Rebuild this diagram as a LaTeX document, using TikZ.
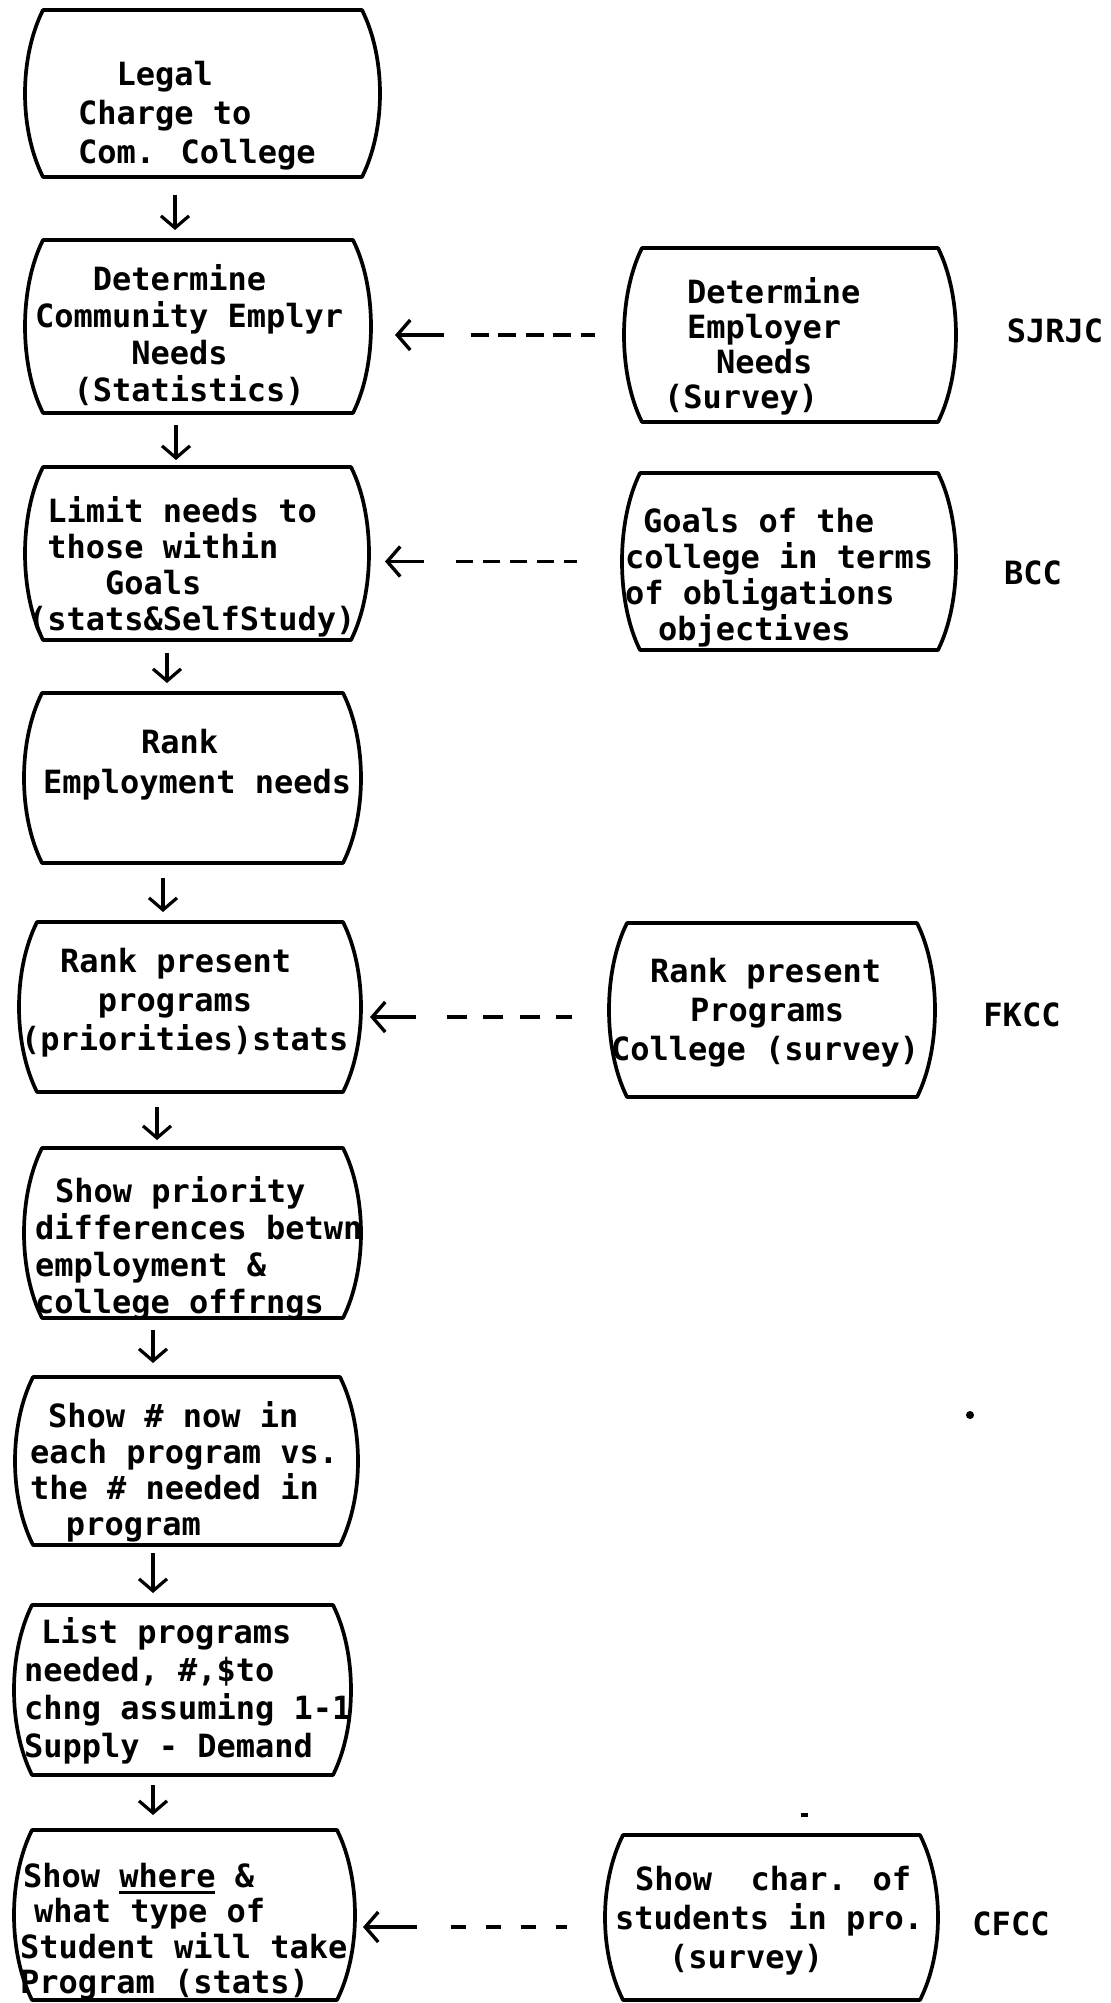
\documentclass[tikz,border=0pt]{standalone}
\usepackage{fontspec}
\newfontfamily\typewriter{DejaVu Sans Mono}
\usetikzlibrary{arrows.meta}
% strut that fixes the height of the first typed line
\newcommand{\topstrut}{\rule{0pt}{26pt}}
\newcommand{\indentby}[1]{\hspace*{#1pt}}
\newcommand{\typedunderline}[2]{\rlap{\rule[-7pt]{#1pt}{2.8pt}}#2}
% barrel outline: straight top and bottom, sides bulging outwards
\newcommand{\drawbarrel}[1]{%
  \draw[frame] ([xshift=18pt]#1.north west) -- ([xshift=-18pt]#1.north east)
    .. controls +(24pt,-48pt) and +(24pt,48pt) .. ([xshift=-18pt]#1.south east)
    -- ([xshift=18pt]#1.south west)
    .. controls +(-24pt,48pt) and +(-24pt,-48pt) .. ([xshift=18pt]#1.north west) -- cycle;}
\begin{document}
\begin{tikzpicture}[x=1pt,y=-1pt,
  stage/.style={inner sep=0pt, outer sep=0pt},
  frame/.style={line width=3.7pt, line cap=round, line join=round},
  words/.style={inner sep=0pt, outer sep=0pt, anchor=north west, align=left,
    font=\typewriter\bfseries\fontsize{32}{#1}\selectfont},
  words/.default=37,
  tag/.style={inner sep=0pt, outer sep=0pt, font=\typewriter\bfseries\fontsize{32}{37}\selectfont},
  flow/.style={line width=3.2pt, -{Straight Barb[length=12pt,width=28pt]}},
  feed/.style={line width=3.4pt, {Straight Barb[length=13pt,width=30pt]}-}]

\fill[white] (0,0) rectangle (1111,2003);
\useasboundingbox (0,0) rectangle (1111,2003);

% main column
\node[stage, minimum width=355pt, minimum height=167pt] (b1) at (202.5,93.5) {};
\node[stage, minimum width=346pt, minimum height=173pt] (b2) at (198,326.5) {};
\node[stage, minimum width=344pt, minimum height=173pt] (b3) at (197,553.5) {};
\node[stage, minimum width=337pt, minimum height=170pt] (b4) at (192.5,778) {};
\node[stage, minimum width=342pt, minimum height=170pt] (b5) at (190,1007) {};
\node[stage, minimum width=337pt, minimum height=170pt] (b6) at (192.5,1233) {};
\node[stage, minimum width=343pt, minimum height=168pt] (b7) at (186.5,1461) {};
\node[stage, minimum width=337pt, minimum height=170pt] (b8) at (182.5,1690) {};
\node[stage, minimum width=341pt, minimum height=170pt] (b9) at (184.5,1915) {};
% side column
\node[stage, minimum width=332pt, minimum height=174pt] (sA) at (790,335) {};
\node[stage, minimum width=334pt, minimum height=177pt] (sB) at (789,561.5) {};
\node[stage, minimum width=326pt, minimum height=174pt] (sC) at (772,1010) {};
\node[stage, minimum width=333pt, minimum height=165pt] (sD) at (771.5,1917.5) {};

\foreach \b in {b1,b2,b3,b4,b5,b6,b7,b8,b9,sA,sB,sC,sD}{\drawbarrel{\b}}

% typed texts
\node[words=39] (t1) at (78,59) {\topstrut\indentby{38.5}Legal\\Charge to\\Com. College};
\node[words=37] (t2) at (35,264) {\topstrut\indentby{57.8}Determine\\Community Emplyr\\\indentby{96.3}Needs\\\indentby{38.5}(Statistics)};
\node[words=36] (t3) at (28,496) {\topstrut\indentby{19.3}Limit needs to\\\indentby{19.3}those within\\\indentby{77}Goals\\(stats\&SelfStudy)};
\node[words=40] (t4) at (43,727) {\topstrut\indentby{98}Rank\\Employment needs};
\node[words=39] (t5) at (21,946) {\topstrut\indentby{39}Rank present\\\indentby{77}programs\\(priorities)stats};
\node[words=37] (t6) at (35,1176) {\topstrut\indentby{20}Show priority\\differences betwn\\employment \&\\college offrngs};
\node[words=36] (t7) at (30,1401) {\topstrut\indentby{18}Show \# now in\\each program vs.\\the \# needed in\\\indentby{36}program};
\node[words=38] (t8) at (24,1617) {\topstrut\indentby{17}List programs\\needed, \#,\$to\\chng assuming 1-1\\Supply - Demand};
\node[words=35.5] (t9) at (20,1861) {\topstrut\indentby{3}Show \typedunderline{96}{where} \&\\\indentby{14}what type of\\Student will take\\Program (stats)};

\node[words=35] (tA) at (664,277) {\topstrut\indentby{23}Determine\\\indentby{23}Employer\\\indentby{52}Needs\\(Survey)};
\node[words=36] (tB) at (625,506) {\topstrut\indentby{18}Goals of the\\college in terms\\of obligations\\\indentby{33}objectives};
\node[words=39] (tC) at (611,956) {\topstrut\indentby{39}Rank present\\\indentby{79}Programs\\College (survey)};
\node[words=39] (tD) at (615,1864) {\topstrut\indentby{20}Show~ char. of\\students in pro.\\\indentby{54}(survey)};

% college tags
\node[tag] (gA) at (1055,331) {SJRJC};
\node[tag] (gB) at (1033,573) {BCC};
\node[tag] (gC) at (1022,1015) {FKCC};
\node[tag] (gD) at (1011,1924) {CFCC};

% downward flow
\draw[flow, shorten <=18pt, shorten >=10pt] ([xshift=-27.5pt]b1.south) -- ([xshift=-23pt]b2.north);
\draw[flow, shorten <=12pt, shorten >=7pt] ([xshift=-22pt]b2.south) -- ([xshift=-21pt]b3.north);
\draw[flow, shorten <=13pt, shorten >=10pt] ([xshift=-30pt]b3.south) -- ([xshift=-25.5pt]b4.north);
\draw[flow, shorten <=15pt, shorten >=10pt] ([xshift=-29.5pt]b4.south) -- ([xshift=-27pt]b5.north);
\draw[flow, shorten <=15pt, shorten >=8pt] ([xshift=-33pt]b5.south) -- ([xshift=-35.5pt]b6.north);
\draw[flow, shorten <=12pt, shorten >=14pt] ([xshift=-39.5pt]b6.south) -- ([xshift=-33.5pt]b7.north);
\draw[flow, shorten <=8pt, shorten >=12pt] ([xshift=-33.5pt]b7.south) -- ([xshift=-29.5pt]b8.north);
\draw[flow, shorten <=10pt, shorten >=15pt] ([xshift=-29.5pt]b8.south) -- ([xshift=-31.5pt]b9.north);

% dashed feeds from the side column
\coordinate (fC) at ([yshift=-7pt]sC.west);
\coordinate (fD) at ([yshift=-9.5pt]sD.west);
\draw[feed, shorten <=24pt, shorten >=29pt,
  dash pattern=on 45pt off 27pt on 18pt off 9.5pt on 18pt off 9.5pt on 18pt off 9.5pt on 18pt off 9.5pt on 18pt off 60pt]
  (sA.west -| b2.east) -- (sA.west);
\draw[feed, shorten <=16pt, shorten >=45pt,
  dash pattern=on 35pt off 32pt on 17pt off 10pt on 17pt off 10pt on 17pt off 10pt on 17pt off 10pt on 17pt off 60pt]
  (sB.west -| b3.east) -- (sB.west);
\draw[feed, shorten <=9pt, shorten >=37pt,
  dash pattern=on 42pt off 31pt on 20pt off 16.3pt on 20pt off 16.3pt on 20pt off 16.3pt on 20pt off 60pt]
  (fC -| b5.east) -- (fC);
\draw[feed, shorten <=8pt, shorten >=38pt,
  dash pattern=on 50pt off 34pt on 15pt off 20pt on 15pt off 20pt on 15pt off 20pt on 15pt off 60pt]
  (fD -| b9.east) -- (fD);

% stray marks
\fill (970,1415) circle (4pt);
\fill (801,1813) rectangle (808,1817);
\end{tikzpicture}
\end{document}
